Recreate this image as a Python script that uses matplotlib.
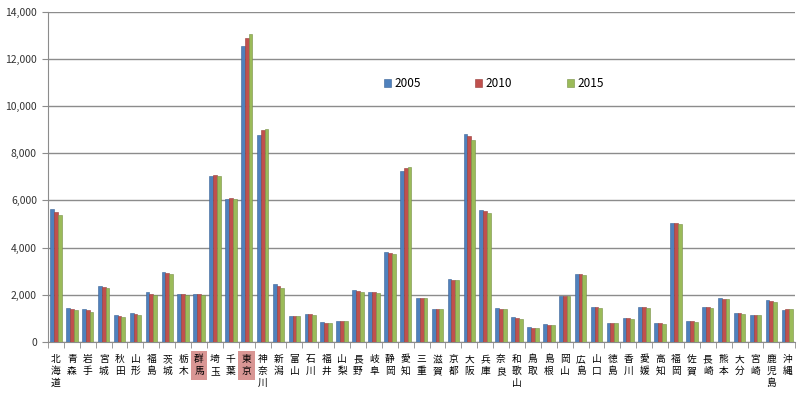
import numpy as np
import matplotlib
matplotlib.use("Agg")
import matplotlib.pyplot as plt
from matplotlib.ticker import FuncFormatter, MultipleLocator

plt.rcParams['font.family'] = ['Noto Sans CJK JP', 'DejaVu Sans']

# prefecture population (thousands)
prefs = ["北海道", "青森", "岩手", "宮城", "秋田", "山形", "福島", "茨城", "栃木", "群馬",
         "埼玉", "千葉", "東京", "神奈川", "新潟", "富山", "石川", "福井", "山梨", "長野",
         "岐阜", "静岡", "愛知", "三重", "滋賀", "京都", "大阪", "兵庫", "奈良", "和歌山",
         "鳥取", "島根", "岡山", "広島", "山口", "徳島", "香川", "愛媛", "高知", "福岡",
         "佐賀", "長崎", "熊本", "大分", "宮崎", "鹿児島", "沖縄"]
years = ["2005", "2010", "2015"]
pop_2005 = [5628, 1437, 1385, 2360, 1146, 1216, 2091, 2975, 2017, 2024,
            7054, 6056, 12577, 8792, 2431, 1112, 1174, 822, 885, 2196,
            2107, 3792, 7255, 1867, 1380, 2648, 8817, 5591, 1421, 1036,
            607, 742, 1957, 2877, 1493, 810, 1012, 1468, 796, 5050,
            866, 1479, 1842, 1210, 1153, 1753, 1362]
pop_2010 = [5510, 1395, 1345, 2340, 1090, 1190, 2040, 2935, 2015, 2015,
            7080, 6100, 12900, 8970, 2365, 1095, 1160, 810, 880, 2160,
            2090, 3775, 7380, 1860, 1400, 2635, 8730, 5550, 1405, 1010,
            600, 725, 1950, 2860, 1470, 800, 1000, 1455, 785, 5040,
            860, 1460, 1830, 1200, 1140, 1730, 1390]
pop_2015 = [5370, 1330, 1280, 2300, 1050, 1140, 1970, 2880, 1990, 1970,
            7040, 6080, 13050, 9030, 2280, 1080, 1150, 800, 868, 2110,
            2060, 3730, 7430, 1840, 1410, 2620, 8580, 5470, 1380, 980,
            590, 710, 1940, 2830, 1430, 785, 985, 1420, 770, 5010,
            850, 1420, 1800, 1180, 1120, 1690, 1410]
highlight = ["群馬", "東京"]

colors = ["#4F81BD", "#C0504D", "#9BBB59"]
edges = ["#3A6396", "#963C3A", "#769046"]

fig = plt.figure(figsize=(8, 3.93), dpi=100)
ax = fig.add_axes([0.06, 0.1305, 0.934, 0.839])

x = np.arange(len(prefs))
w = 0.24
for i, (vals, yr) in enumerate(zip([pop_2005, pop_2010, pop_2015], years)):
    ax.bar(x + (i - 1) * w, vals, width=w, color=colors[i], edgecolor=edges[i],
           linewidth=0.4, label=yr, zorder=3)

ax.set_ylim(0, 14000)
ax.set_xlim(-0.5, len(prefs) - 0.5)
ax.yaxis.set_major_locator(MultipleLocator(2000))
ax.yaxis.set_major_formatter(FuncFormatter(lambda v, p: f"{int(v):,}"))
ax.grid(axis='y', color='#8c8c8c', linewidth=1.0, zorder=0)

for s in ['top', 'right']:
    ax.spines[s].set_visible(False)
for s in ['left', 'bottom']:
    ax.spines[s].set_color('#8c8c8c')

ax.tick_params(axis='y', labelsize=7.5, length=4, color='#8c8c8c', pad=4, labelcolor='#333333')
ax.set_xticks(x)
ax.set_xticklabels(['\n'.join(p) for p in prefs], fontsize=7, linespacing=1.25)
ax.tick_params(axis='x', which='major', length=0, pad=9)
ax.set_xticks(np.arange(-0.5, len(prefs)), minor=True)
ax.tick_params(axis='x', which='minor', length=4, color='#8c8c8c')

for lab, name in zip(ax.get_xticklabels(), prefs):
    if name in highlight:
        lab.set_bbox(dict(facecolor='#D99694', edgecolor='none', pad=2.5))

ax.legend(loc='upper left', bbox_to_anchor=(0.435, 0.835), ncol=3, frameon=False,
          fontsize=8.5, handlelength=0.6, handleheight=0.6, handletextpad=0.3,
          columnspacing=4.6)

fig.savefig("out.png", dpi=100)
